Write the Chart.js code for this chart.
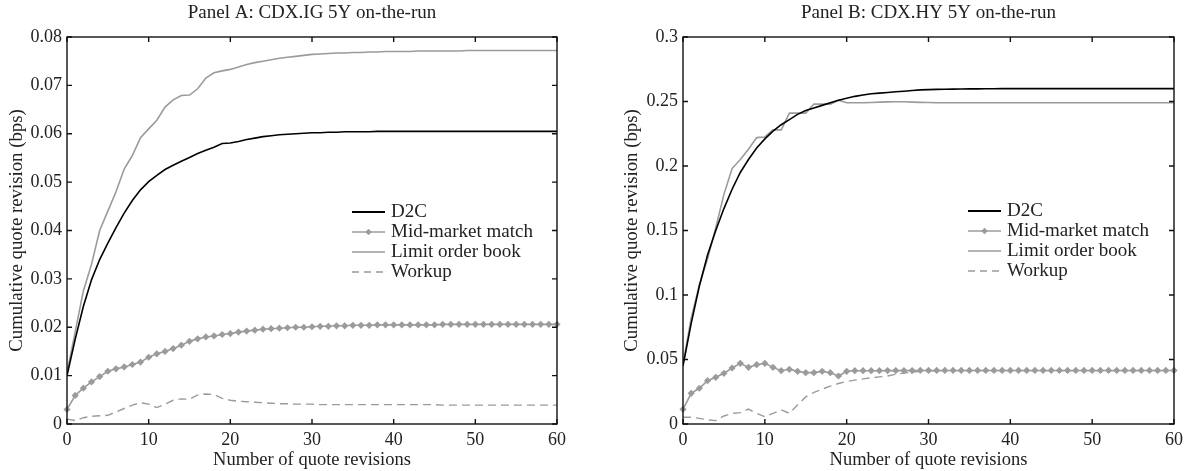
<!DOCTYPE html>
<html>
<head>
<meta charset="utf-8">
<script src="https://cdn.jsdelivr.net/npm/chart.js@4.4.0/dist/chart.umd.min.js"></script>
<style>
  body { margin: 0; background: #fff; }
  #wrap { position: relative; width: 1189px; height: 471px; overflow: hidden; }
  .panel { position: absolute; top: 0; height: 471px; }
  .legend { position: absolute; font: 19px "Liberation Serif", "DejaVu Serif", serif; color: #222; }
  .legend div { height: 20px; line-height: 20px; white-space: nowrap; }
  .legend svg { vertical-align: middle; margin-right: 6px; position: relative; top: -1px; }
</style>
</head>
<body>
<div id="wrap">
  <div class="panel" style="left:0;width:595px">
    <canvas id="chartA" width="595" height="471"></canvas>
    <div class="legend" id="legendA" style="left:352px;top:201px"></div>
  </div>
  <div class="panel" style="left:595px;width:594px">
    <canvas id="chartB" width="594" height="471"></canvas>
    <div class="legend" id="legendB" style="left:373px;top:200px"></div>
  </div>
</div>
<script>
// Number of quote revisions (x)
const revisions = [0, 1, 2, 3, 4, 5, 6, 7, 8, 9, 10, 11, 12, 13, 14, 15, 16, 17, 18, 19, 20,
  21, 22, 23, 24, 25, 26, 27, 28, 29, 30, 31, 32, 33, 34, 35, 36, 37, 38, 39, 40,
  41, 42, 43, 44, 45, 46, 47, 48, 49, 50, 51, 52, 53, 54, 55, 56, 57, 58, 59, 60];

const seriesNames = ["D2C", "Mid-market match", "Limit order book", "Workup"];

// Panel A: CDX.IG 5Y
const igD2C = [0.0100, 0.0175, 0.0243, 0.0298, 0.0340, 0.0374, 0.0406, 0.0436, 0.0462, 0.0484, 0.0501,
  0.0514, 0.0526, 0.0535, 0.0543, 0.0551, 0.0559, 0.0566, 0.0572, 0.0580, 0.0581,
  0.0584, 0.0588, 0.0591, 0.0594, 0.0596, 0.0598, 0.0599, 0.0600, 0.0601, 0.0602,
  0.0602, 0.0603, 0.0603, 0.0604, 0.0604, 0.0604, 0.0604, 0.0605, 0.0605, 0.0605,
  0.0605, 0.0605, 0.0605, 0.0605, 0.0605, 0.0605, 0.0605, 0.0605, 0.0605, 0.0605,
  0.0605, 0.0605, 0.0605, 0.0605, 0.0605, 0.0605, 0.0605, 0.0605, 0.0605, 0.0605];
const igMid = [0.0030, 0.0059, 0.0074, 0.0087, 0.0098, 0.0109, 0.0114, 0.0118, 0.0123, 0.0128, 0.0138,
  0.0145, 0.0150, 0.0156, 0.0163, 0.0171, 0.0176, 0.0180, 0.0182, 0.0185, 0.0187,
  0.0190, 0.0192, 0.0194, 0.0196, 0.0197, 0.0198, 0.0199, 0.0200, 0.0200, 0.0201,
  0.0202, 0.0202, 0.0203, 0.0203, 0.0204, 0.0204, 0.0204, 0.0205, 0.0205, 0.0205,
  0.0205, 0.0205, 0.0205, 0.0205, 0.0205, 0.0206, 0.0206, 0.0206, 0.0206, 0.0206,
  0.0206, 0.0206, 0.0206, 0.0206, 0.0206, 0.0206, 0.0206, 0.0206, 0.0206, 0.0206];
const igLob = [0.0105, 0.0190, 0.0275, 0.0330, 0.0400, 0.0440, 0.0480, 0.0527, 0.0555, 0.0592, 0.0610,
  0.0628, 0.0655, 0.0670, 0.0679, 0.0680, 0.0693, 0.0715, 0.0726, 0.0730, 0.0733,
  0.0738, 0.0743, 0.0747, 0.0750, 0.0753, 0.0756, 0.0758, 0.0760, 0.0762, 0.0764,
  0.0765, 0.0766, 0.0767, 0.0767, 0.0768, 0.0768, 0.0769, 0.0769, 0.0770, 0.0770,
  0.0770, 0.0770, 0.0771, 0.0771, 0.0771, 0.0771, 0.0771, 0.0771, 0.0772, 0.0772,
  0.0772, 0.0772, 0.0772, 0.0772, 0.0772, 0.0772, 0.0772, 0.0772, 0.0772, 0.0772];
const igWork = [0.0010, 0.0007, 0.0013, 0.0016, 0.0017, 0.0018, 0.0025, 0.0032, 0.0039, 0.0044, 0.0041,
  0.0034, 0.0041, 0.0049, 0.0052, 0.0051, 0.0060, 0.0062, 0.0061, 0.0053, 0.0049,
  0.0047, 0.0046, 0.0045, 0.0044, 0.0043, 0.0042, 0.0042, 0.0041, 0.0041, 0.0041,
  0.0040, 0.0040, 0.0040, 0.0040, 0.0040, 0.0040, 0.0040, 0.0040, 0.0040, 0.0040,
  0.0040, 0.0040, 0.0040, 0.0040, 0.0040, 0.0039, 0.0039, 0.0039, 0.0039, 0.0039,
  0.0039, 0.0039, 0.0039, 0.0039, 0.0039, 0.0039, 0.0039, 0.0039, 0.0039, 0.0039];

// Panel B: CDX.HY 5Y
const hyD2C = [0.045, 0.078, 0.107, 0.131, 0.150, 0.167, 0.182, 0.195, 0.205, 0.214, 0.221,
  0.227, 0.232, 0.236, 0.240, 0.243, 0.245, 0.247, 0.249, 0.251, 0.2525,
  0.254, 0.255, 0.256, 0.2565, 0.257, 0.2575, 0.258, 0.2585, 0.259, 0.2592,
  0.2594, 0.2595, 0.2596, 0.2597, 0.2598, 0.2598, 0.2599, 0.2599, 0.2600, 0.2600,
  0.2600, 0.2600, 0.2600, 0.2600, 0.2600, 0.2600, 0.2600, 0.2600, 0.2600, 0.2600,
  0.2600, 0.2600, 0.2600, 0.2600, 0.2600, 0.2600, 0.2600, 0.2600, 0.2600, 0.2600];
const hyMid = [0.0114, 0.0238, 0.0277, 0.0336, 0.0362, 0.0393, 0.0434, 0.0470, 0.0439, 0.0460, 0.0470,
  0.0439, 0.0413, 0.0424, 0.0408, 0.0398, 0.0398, 0.0408, 0.0398, 0.0372, 0.0408,
  0.0413, 0.0413, 0.0413, 0.0413, 0.0414, 0.0414, 0.0414, 0.0414, 0.0415, 0.0415,
  0.0415, 0.0415, 0.0415, 0.0415, 0.0415, 0.0415, 0.0415, 0.0415, 0.0415, 0.0415,
  0.0415, 0.0415, 0.0415, 0.0415, 0.0415, 0.0415, 0.0415, 0.0415, 0.0415, 0.0415,
  0.0415, 0.0415, 0.0415, 0.0415, 0.0415, 0.0415, 0.0415, 0.0415, 0.0415, 0.0415];
const hyLob = [0.046, 0.082, 0.108, 0.128, 0.152, 0.178, 0.198, 0.205, 0.213, 0.222, 0.2225,
  0.228, 0.228, 0.241, 0.241, 0.241, 0.248, 0.248, 0.248, 0.251, 0.249,
  0.249, 0.249, 0.2492, 0.2495, 0.2497, 0.2498, 0.2498, 0.2495, 0.2493, 0.2492,
  0.249, 0.249, 0.249, 0.249, 0.249, 0.249, 0.249, 0.249, 0.249, 0.249,
  0.249, 0.249, 0.249, 0.249, 0.249, 0.249, 0.249, 0.249, 0.249, 0.249,
  0.249, 0.249, 0.249, 0.249, 0.249, 0.249, 0.249, 0.249, 0.249, 0.249];
const hyWork = [0.0052, 0.0052, 0.0044, 0.0032, 0.0026, 0.0062, 0.0083, 0.0088, 0.0116, 0.0083, 0.0057,
  0.0083, 0.0109, 0.0083, 0.0147, 0.0210, 0.0245, 0.0270, 0.0293, 0.0314, 0.0330,
  0.0340, 0.0350, 0.0358, 0.0365, 0.0372, 0.0385, 0.0395, 0.0402, 0.0408, 0.0412,
  0.0414, 0.0414, 0.0414, 0.0414, 0.0414, 0.0414, 0.0414, 0.0414, 0.0414, 0.0414,
  0.0414, 0.0414, 0.0414, 0.0414, 0.0414, 0.0414, 0.0414, 0.0414, 0.0414, 0.0414,
  0.0414, 0.0414, 0.0414, 0.0414, 0.0414, 0.0414, 0.0414, 0.0414, 0.0414, 0.0414];

// Tick labels
const xTicks = [0, 10, 20, 30, 40, 50, 60];
const igYTicks = [0, 0.01, 0.02, 0.03, 0.04, 0.05, 0.06, 0.07, 0.08];
const igYLabels = ["0", "0.01", "0.02", "0.03", "0.04", "0.05", "0.06", "0.07", "0.08"];
const hyYTicks = [0, 0.05, 0.1, 0.15, 0.2, 0.25, 0.3];
const hyYLabels = ["0", "0.05", "0.1", "0.15", "0.2", "0.25", "0.3"];

const FONT = '"Liberation Serif", "DejaVu Serif", serif';
const GRAY = "#9b9b9b";
Chart.defaults.font.family = FONT;
Chart.defaults.color = "#222";

const toXY = (vals) => revisions.map((n, i) => ({ x: n, y: vals[i] }));

// box round the plot with small inward ticks on all four sides
const framePlugin = {
  id: "frame",
  afterDraw(chart) {
    const { ctx, chartArea: a, scales } = chart;
    ctx.save();
    ctx.strokeStyle = "#111";
    ctx.lineWidth = 1.4;
    ctx.beginPath();
    scales.x.ticks.forEach((t) => {
      const px = scales.x.getPixelForValue(t.value);
      ctx.moveTo(px, a.bottom); ctx.lineTo(px, a.bottom - 5);
      ctx.moveTo(px, a.top); ctx.lineTo(px, a.top + 5);
    });
    scales.y.ticks.forEach((t) => {
      const py = scales.y.getPixelForValue(t.value);
      ctx.moveTo(a.left, py); ctx.lineTo(a.left + 5, py);
      ctx.moveTo(a.right, py); ctx.lineTo(a.right - 5, py);
    });
    ctx.stroke();
    ctx.strokeRect(a.left, a.top, a.right - a.left, a.bottom - a.top);
    ctx.restore();
  },
};

function makeChart(id, title, d2c, mid, lob, work, yMax, yTicks, yLabels, padLeft, padRight, yWidth) {
  return new Chart(document.getElementById(id), {
    type: "line",
    data: {
      datasets: [
        { label: seriesNames[0], data: toXY(d2c), borderColor: "#000", borderWidth: 1.6, pointRadius: 0 },
        { label: seriesNames[1], data: toXY(mid), borderColor: GRAY, borderWidth: 1.6,
          pointStyle: "rectRot", pointRadius: 3.6, pointBackgroundColor: GRAY, pointBorderColor: GRAY,
          pointBorderWidth: 0, clip: false },
        { label: seriesNames[2], data: toXY(lob), borderColor: GRAY, borderWidth: 1.6, pointRadius: 0 },
        { label: seriesNames[3], data: toXY(work), borderColor: GRAY, borderWidth: 1.4,
          borderDash: [8, 5], pointRadius: 0 },
      ],
    },
    options: {
      responsive: false,
      animation: false,
      layout: { padding: { left: padLeft, right: padRight, top: 0, bottom: 0 } },
      plugins: {
        legend: { display: false },
        tooltip: { enabled: false },
        title: {
          display: true,
          text: title,
          fullSize: false,
          color: "#222",
          font: { size: 19, weight: "normal" },
          padding: { top: 2, bottom: 12.2 },
        },
      },
      scales: {
        x: {
          type: "linear",
          min: 0,
          max: 60,
          afterBuildTicks: (s) => { s.ticks = xTicks.map((v) => ({ value: v })); },
          afterFit: (s) => { s.height = 47; },
          grid: { display: false, drawTicks: false },
          border: { display: false },
          ticks: { font: { size: 18 }, padding: 5, maxRotation: 0, callback: (v) => String(v) },
          title: { display: true, text: "Number of quote revisions", font: { size: 18.5 }, padding: 0 },
        },
        y: {
          min: 0,
          max: yMax,
          afterBuildTicks: (s) => { s.ticks = yTicks.map((v) => ({ value: v })); },
          afterFit: (s) => { s.width = yWidth; },
          grid: { display: false, drawTicks: false },
          border: { display: false },
          ticks: { font: { size: 18 }, padding: 5, callback: (v, i) => yLabels[i] },
          title: { display: true, text: "Cumulative quote revision (bps)", font: { size: 18.8 },
            padding: { top: 6, bottom: 0 } },
        },
      },
    },
    plugins: [framePlugin],
  });
}

makeChart("chartA", "Panel A: CDX.IG 5Y on-the-run", igD2C, igMid, igLob, igWork,
  0.08, igYTicks, igYLabels, 0, 38, 67);
makeChart("chartB", "Panel B: CDX.HY 5Y on-the-run", hyD2C, hyMid, hyLob, hyWork,
  0.3, hyYTicks, hyYLabels, 20, 15, 68);

// legends as html, placed inside the plot like the original
function sample(i) {
  const line = '<line x1="0" y1="5" x2="33" y2="5" stroke="' + (i === 0 ? "#000" : GRAY) +
    '" stroke-width="' + (i === 0 ? 1.8 : 1.6) + '"' + (i === 3 ? ' stroke-dasharray="7,5"' : "") + "/>";
  const mark = i === 1 ? '<polygon points="16.5,1.8 19.7,5 16.5,8.2 13.3,5" fill="' + GRAY + '"/>' : "";
  return '<svg width="33" height="10">' + line + mark + "</svg>";
}
["legendA", "legendB"].forEach((id) => {
  document.getElementById(id).innerHTML = seriesNames
    .map((name, i) => "<div>" + sample(i) + name + "</div>")
    .join("");
});
</script>
</body>
</html>
